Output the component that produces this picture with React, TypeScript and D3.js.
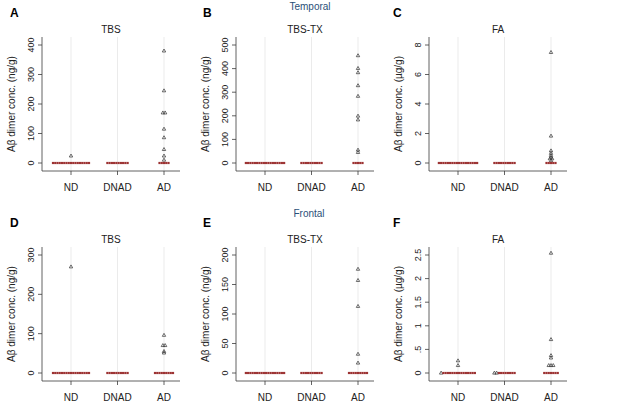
import React from "react";
import * as d3 from "d3";

const categories = ["ND", "DNAD", "AD"];

// Temporal TBS (ng/g)
const tTbsND = [24, 0, 0, 0, 0, 0, 0, 0, 0, 0, 0, 0, 0, 0, 0, 0, 0, 0];
const tTbsDNAD = [0, 0, 0, 0, 0, 0, 0, 0, 0, 0];
const tTbsAD = [380, 245, 170, 170, 115, 86, 46, 24, 10, 0, 0, 0, 0, 0];
// Temporal TBS-TX (ng/g)
const tTxND = [0, 0, 0, 0, 0, 0, 0, 0, 0, 0, 0, 0, 0, 0, 0, 0, 0, 0];
const tTxDNAD = [0, 0, 0, 0, 0, 0, 0, 0, 0, 0];
const tTxAD = [455, 401, 383, 328, 283, 199, 183, 55, 45, 0, 0, 0, 0, 0];
// Temporal FA (µg/g)
const tFaND = [0, 0, 0, 0, 0, 0, 0, 0, 0, 0, 0, 0, 0, 0, 0, 0, 0, 0];
const tFaDNAD = [0, 0, 0, 0, 0, 0, 0, 0, 0, 0];
const tFaAD = [7.5, 1.83, 0.83, 0.66, 0.52, 0.39, 0.29, 0.29, 0.16, 0, 0, 0, 0, 0];
// Frontal TBS (ng/g)
const fTbsND = [270, 0, 0, 0, 0, 0, 0, 0, 0, 0, 0, 0, 0, 0, 0, 0, 0, 0];
const fTbsDNAD = [0, 0, 0, 0, 0, 0, 0, 0, 0, 0];
const fTbsAD = [96, 70, 70, 55, 51, 0, 0, 0, 0, 0, 0, 0, 0, 0];
// Frontal TBS-TX (ng/g)
const fTxND = [0, 0, 0, 0, 0, 0, 0, 0, 0, 0, 0, 0, 0, 0, 0, 0, 0, 0];
const fTxDNAD = [0, 0, 0, 0, 0, 0, 0, 0, 0, 0];
const fTxAD = [176, 157, 113, 32, 17, 0, 0, 0, 0, 0, 0, 0, 0, 0];
// Frontal FA (µg/g)
const fFaND = [0.26, 0.16, 0.01, 0, 0, 0, 0, 0, 0, 0, 0, 0, 0, 0, 0, 0, 0, 0];
const fFaDNAD = [0.01, 0.01, 0, 0, 0, 0, 0, 0, 0, 0];
const fFaAD = [2.54, 0.71, 0.37, 0.32, 0.16, 0.16, 0.16, 0, 0, 0, 0, 0, 0, 0];

const ticksTbsT = [0, 100, 200, 300, 400];
const ticksTxT = [0, 100, 200, 300, 400, 500];
const ticksFaT = [0, 2, 4, 6, 8];
const ticksTbsF = [0, 100, 200, 300];
const ticksTxF = [0, 50, 100, 150, 200];
const ticksFaF = [0, 0.5, 1, 1.5, 2, 2.5];
const ticksFaFLabels = ["0", ".5", "1", "1.5", "2", "2.5"];

const panelLetters = ["A", "B", "C", "D", "E", "F"];
const panelTitles = ["TBS", "TBS-TX", "FA", "TBS", "TBS-TX", "FA"];
const rowTitles = ["Temporal", "Frontal"];
const yLabelNg = "Aβ dimer conc. (ng/g)";
const yLabelUg = "Aβ dimer conc. (µg/g)";

const FONT = "'Liberation Sans', Arial, Helvetica, sans-serif";
const AXIS = "#3a3a3a";
const RED = "#9c3232";
const TRI = "#3c3c3c";

type PanelDef = {
  col: number;
  row: number;
  groups: number[][];
  ticks: number[];
  tickLabels?: string[];
  yLabel: string;
};

const panels: PanelDef[] = [
  { col: 0, row: 0, groups: [tTbsND, tTbsDNAD, tTbsAD], ticks: ticksTbsT, yLabel: yLabelNg },
  { col: 1, row: 0, groups: [tTxND, tTxDNAD, tTxAD], ticks: ticksTxT, yLabel: yLabelNg },
  { col: 2, row: 0, groups: [tFaND, tFaDNAD, tFaAD], ticks: ticksFaT, yLabel: yLabelUg },
  { col: 0, row: 1, groups: [fTbsND, fTbsDNAD, fTbsAD], ticks: ticksTbsF, yLabel: yLabelNg },
  { col: 1, row: 1, groups: [fTxND, fTxDNAD, fTxAD], ticks: ticksTxF, yLabel: yLabelNg },
  { col: 2, row: 1, groups: [fFaND, fFaDNAD, fFaAD], ticks: ticksFaF, tickLabels: ticksFaFLabels, yLabel: yLabelUg },
];

const axisXs = [42, 236, 429];
const letterXs = [10, 203, 393];
const PLOT_W = 138;
const SPACING = 2.25;

function Panel({ p, idx }: { p: PanelDef; idx: number }) {
  const ax = axisXs[p.col];
  const oy = p.row * 210;
  const frameTop = 37 + oy;
  const yMaxTick = 45 + oy;
  const yZero = 163 + oy;
  const xAxisY = 171 + oy;
  const maxTick = p.ticks[p.ticks.length - 1];
  const y = d3.scaleLinear().domain([0, maxTick]).range([yZero, yMaxTick]);
  const x = d3.scalePoint<string>().domain(categories).range([ax + 29, ax + 122]);

  const marks: React.ReactNode[] = [];
  p.groups.forEach((vals, gi) => {
    const cx = x(categories[gi]) as number;
    const bins = new Map<string, number[]>();
    vals.forEach((v) => {
      const key = yZero - y(v) < 1 ? "zero" : String(v);
      if (!bins.has(key)) bins.set(key, []);
      bins.get(key)!.push(v);
    });
    bins.forEach((arr, key) => {
      const sorted = key === "zero" ? [...arr].sort((a, b) => b - a) : arr;
      const n = sorted.length;
      sorted.forEach((v, i) => {
        const px = cx + (i - (n - 1) / 2) * SPACING;
        const py = key === "zero" ? yZero : y(v);
        if (v === 0) {
          marks.push(
            <rect key={`m${gi}-${key}-${i}`} x={px - 1.1} y={py - 1.1} width={2.2} height={2.2} fill={RED} />
          );
        } else {
          const d = `M${px},${py - 1.9}L${px + 1.7},${py + 1.1}L${px - 1.7},${py + 1.1}Z`;
          marks.push(<path key={`m${gi}-${key}-${i}`} d={d} fill="none" stroke={TRI} strokeWidth={0.75} />);
        }
      });
    });
  });

  return (
    <g>
      <text x={letterXs[p.col]} y={17 + oy} fontFamily={FONT} fontWeight="bold" fontSize={12} fill="#000">
        {panelLetters[idx]}
      </text>
      <text x={ax + 69} y={33 + oy} textAnchor="middle" fontFamily={FONT} fontSize={10} fill="#222">
        {panelTitles[idx]}
      </text>
      {categories.map((c) => (
        <line key={"g" + c} x1={x(c)} x2={x(c)} y1={frameTop} y2={xAxisY} stroke="#e6e6e6" strokeWidth={0.8} />
      ))}
      <line x1={ax} x2={ax} y1={frameTop} y2={xAxisY} stroke={AXIS} strokeWidth={0.8} />
      <line x1={ax} x2={ax + PLOT_W} y1={xAxisY} y2={xAxisY} stroke={AXIS} strokeWidth={0.8} />
      {p.ticks.map((t, i) => (
        <g key={"t" + t}>
          <line x1={ax - 4} x2={ax} y1={y(t)} y2={y(t)} stroke={AXIS} strokeWidth={0.8} />
          <text
            transform={`translate(${ax - 8},${y(t)}) rotate(-90)`}
            textAnchor="middle"
            fontFamily={FONT}
            fontSize={9}
            fill="#222"
          >
            {p.tickLabels ? p.tickLabels[i] : String(t)}
          </text>
        </g>
      ))}
      {categories.map((c) => (
        <g key={"c" + c}>
          <line x1={x(c)} x2={x(c)} y1={xAxisY} y2={xAxisY + 4} stroke={AXIS} strokeWidth={0.8} />
          <text x={x(c)} y={xAxisY + 20} textAnchor="middle" fontFamily={FONT} fontSize={10} fill="#222">
            {c}
          </text>
        </g>
      ))}
      <text
        transform={`translate(${ax - 27},${(frameTop + xAxisY) / 2}) rotate(-90)`}
        textAnchor="middle"
        fontFamily={FONT}
        fontSize={10}
        fill="#222"
      >
        {p.yLabel}
      </text>
      {marks}
    </g>
  );
}

export default function App() {
  return (
    <svg width={617} height={404} style={{ position: "absolute", left: 0, top: 0, background: "#fff" }}>
      <rect width={617} height={404} fill="#fff" />
      <text x={310} y={10} textAnchor="middle" fontFamily={FONT} fontSize={10} fill="#2a4f78">
        {rowTitles[0]}
      </text>
      <text x={309} y={217} textAnchor="middle" fontFamily={FONT} fontSize={10} fill="#2a4f78">
        {rowTitles[1]}
      </text>
      {panels.map((p, i) => (
        <Panel key={i} p={p} idx={i} />
      ))}
    </svg>
  );
}
